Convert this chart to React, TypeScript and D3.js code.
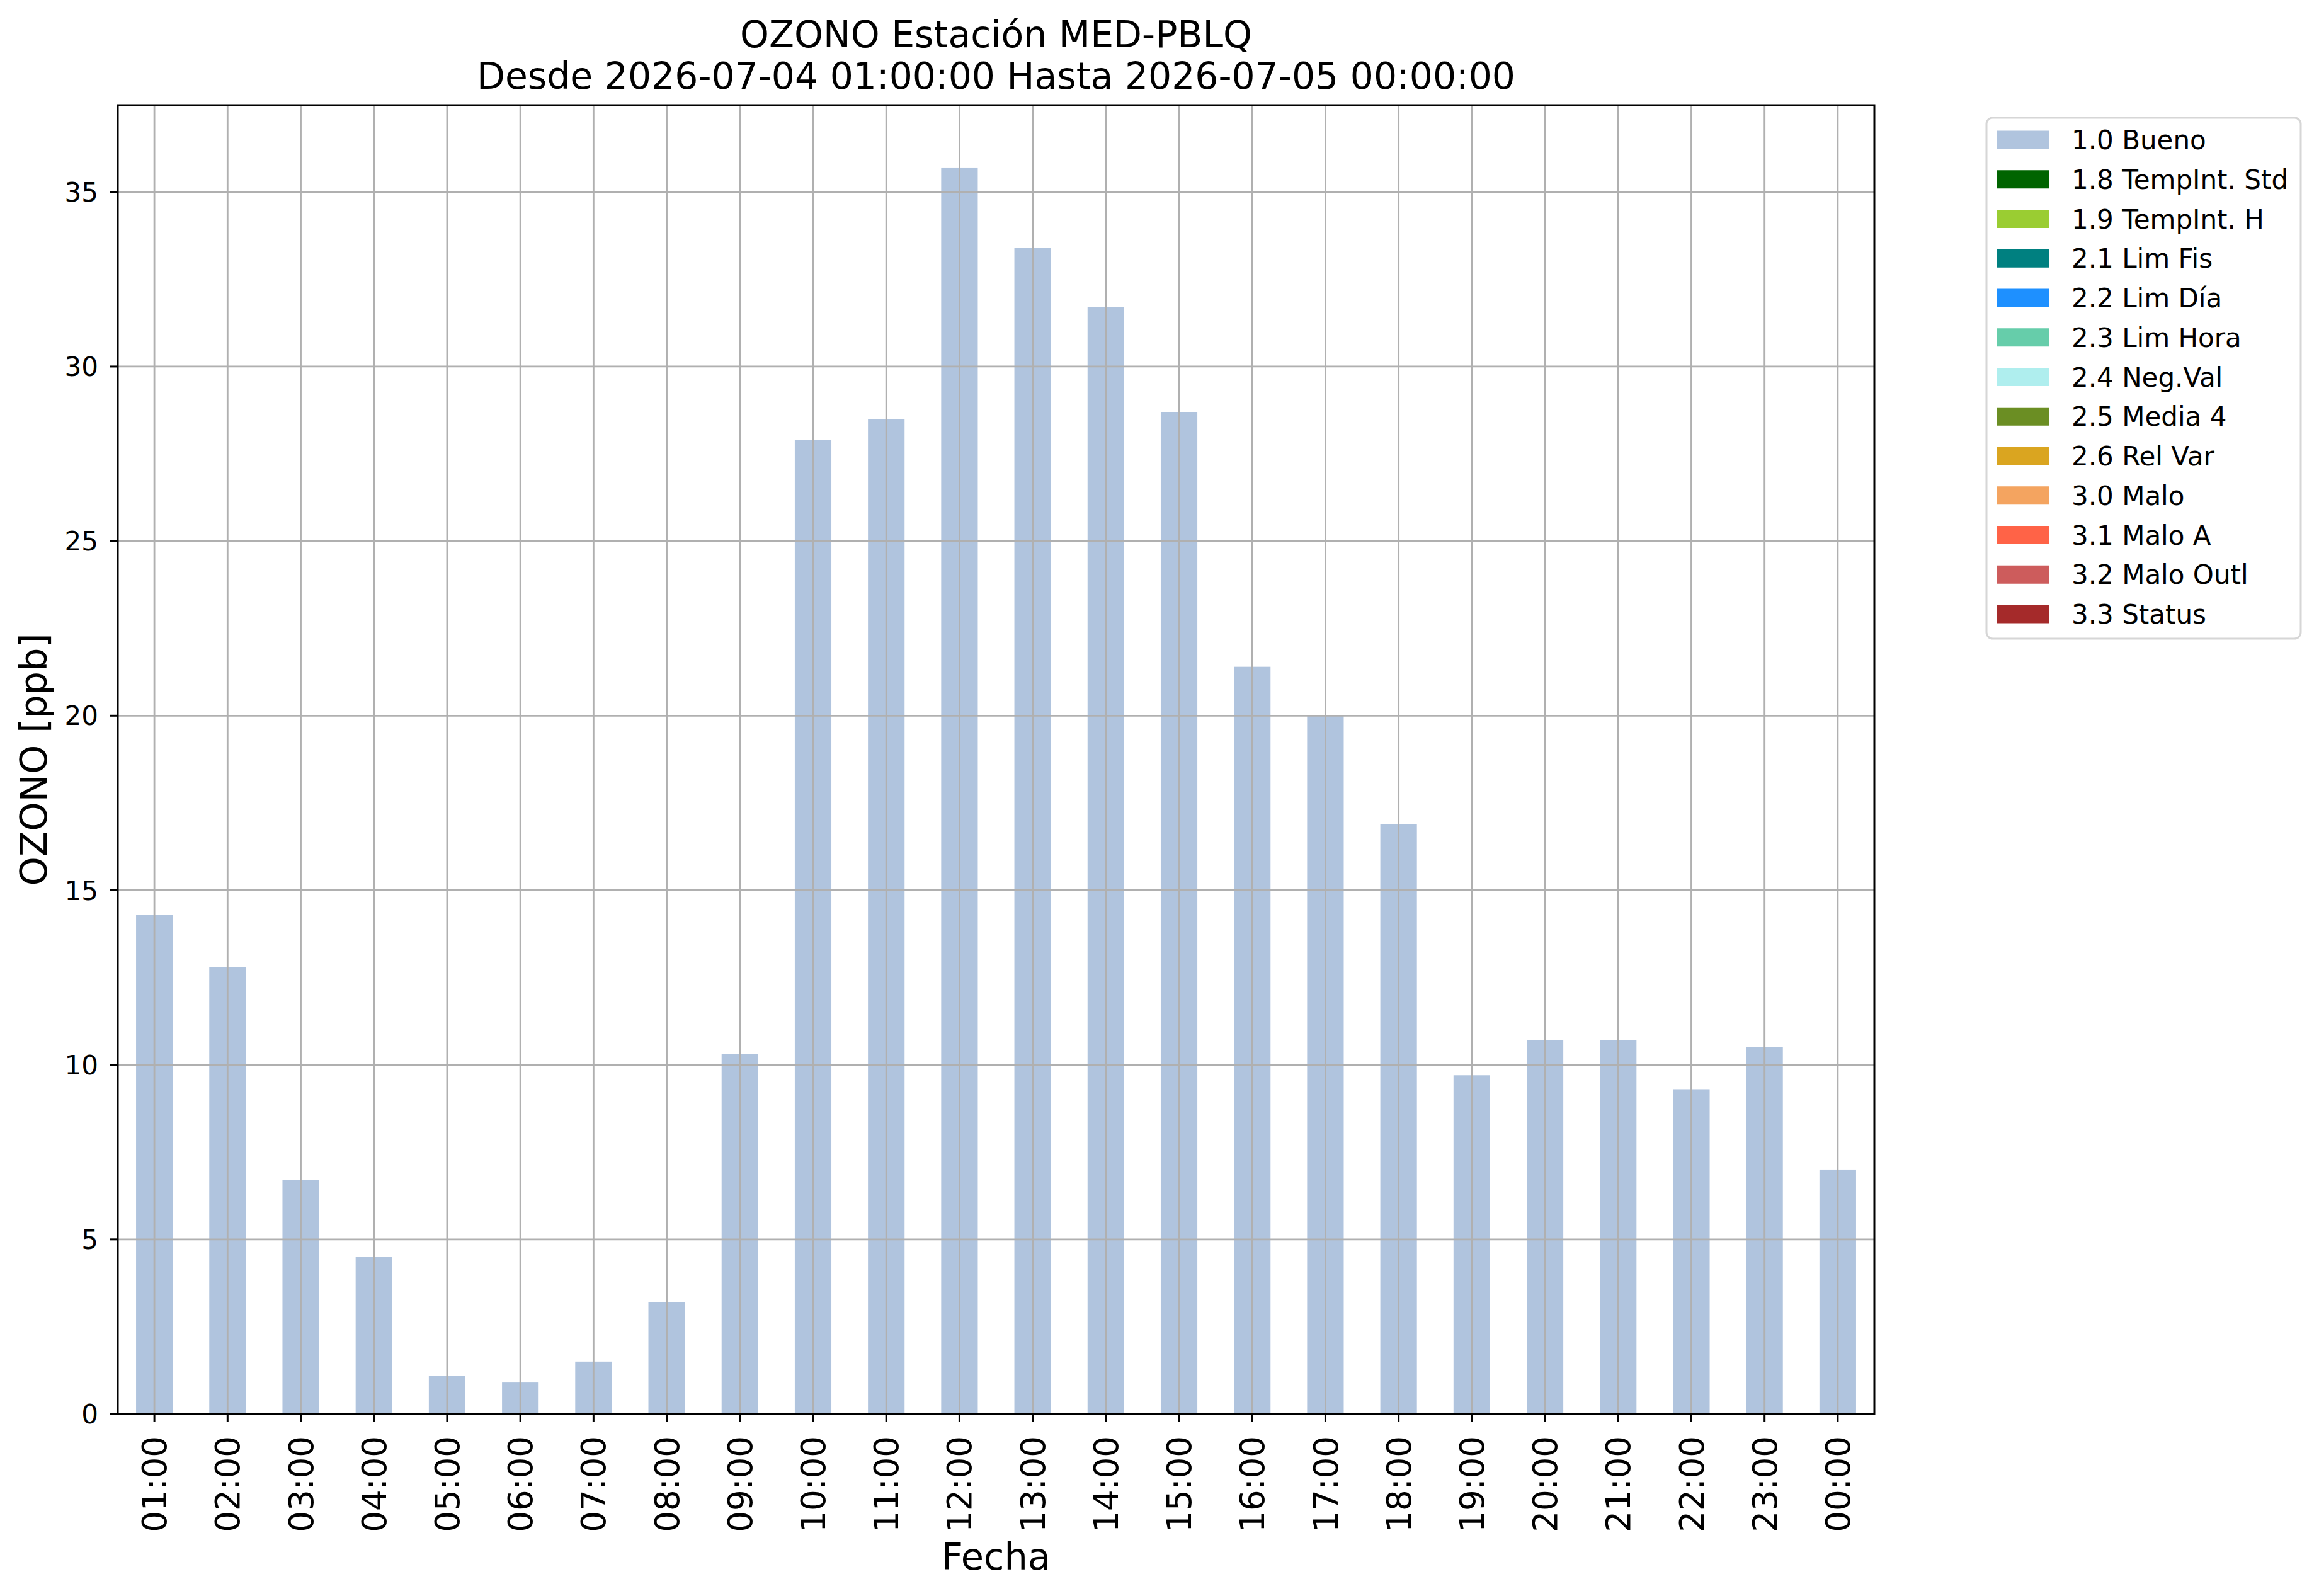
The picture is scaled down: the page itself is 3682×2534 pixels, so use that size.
import { useEffect, useRef } from "react";
import * as d3 from "d3";

// Hourly ozone values (ppb) for the station
const hours = [
    "01:00", "02:00", "03:00", "04:00", "05:00", "06:00", "07:00", "08:00",
    "09:00", "10:00", "11:00", "12:00", "13:00", "14:00", "15:00", "16:00",
    "17:00", "18:00", "19:00", "20:00", "21:00", "22:00", "23:00", "00:00"
];
const ozoneValues = [
    14.3, 12.8, 6.7, 4.5, 1.1, 0.9, 1.5, 3.2,
    10.3, 27.9, 28.5, 35.7, 33.4, 31.7, 28.7, 21.4,
    20.0, 16.9, 9.7, 10.7, 10.7, 9.3, 10.5, 7.0
];
const yTicks = [0, 5, 10, 15, 20, 25, 30, 35];

// Quality flag legend
const flagLabels = [
    "1.0 Bueno", "1.8 TempInt. Std", "1.9 TempInt. H", "2.1 Lim Fis",
    "2.2 Lim Día", "2.3 Lim Hora", "2.4 Neg.Val", "2.5 Media 4",
    "2.6 Rel Var", "3.0 Malo", "3.1 Malo A", "3.2 Malo Outl", "3.3 Status"
];
const flagColors = [
    "#b0c4de", "#006400", "#9acd32", "#008080",
    "#1e90ff", "#66cdaa", "#afeeee", "#6b8e23",
    "#daa520", "#f4a460", "#ff6347", "#cd5c5c", "#a52a2a"
];

const titleLines = [
    "OZONO Estación MED-PBLQ",
    "Desde 2026-07-04 01:00:00 Hasta 2026-07-05 00:00:00"
];

const WIDTH = 3682;
const HEIGHT = 2534;
const FONT = "DejaVu Sans, Verdana, sans-serif";

export default function App(): JSX.Element {
    const svgRef = useRef<SVGSVGElement>(null);

    useEffect(() => {
        document.body.style.margin = "0";

        const svg = d3.select(svgRef.current);
        svg.selectAll("*").remove();

        // plot area
        const left = 187, right = 2976, top = 167, bottom = 2245;
        const tickLen = 13;

        svg.append("rect")
            .attr("width", WIDTH)
            .attr("height", HEIGHT)
            .attr("fill", "#ffffff");

        const x = d3.scaleBand<string>()
            .domain(hours)
            .range([left, right])
            .paddingInner(0.5)
            .paddingOuter(0.25);

        const yMax = (d3.max(ozoneValues) ?? 0) * 1.05;
        const y = d3.scaleLinear()
            .domain([0, yMax])
            .range([bottom, top]);

        // bars
        svg.append("g")
            .selectAll("rect")
            .data(ozoneValues)
            .enter().append("rect")
            .attr("x", (d, i) => x(hours[i]) ?? 0)
            .attr("y", d => y(d))
            .attr("width", x.bandwidth())
            .attr("height", d => y(0) - y(d))
            .attr("fill", flagColors[0]);

        // grid drawn over the bars, like the matplotlib original
        const grid = svg.append("g")
            .attr("stroke", "#b0b0b0")
            .attr("stroke-width", 2.8);

        grid.selectAll("line.v")
            .data(hours)
            .enter().append("line")
            .attr("class", "v")
            .attr("x1", d => (x(d) ?? 0) + x.bandwidth() / 2)
            .attr("x2", d => (x(d) ?? 0) + x.bandwidth() / 2)
            .attr("y1", top)
            .attr("y2", bottom);

        grid.selectAll("line.h")
            .data(yTicks)
            .enter().append("line")
            .attr("class", "h")
            .attr("x1", left)
            .attr("x2", right)
            .attr("y1", d => y(d))
            .attr("y2", d => y(d));

        // frame
        svg.append("rect")
            .attr("x", left)
            .attr("y", top)
            .attr("width", right - left)
            .attr("height", bottom - top)
            .attr("fill", "none")
            .attr("stroke", "#000000")
            .attr("stroke-width", 3);

        // y axis ticks + labels
        const yAxis = svg.append("g");
        yAxis.selectAll("line")
            .data(yTicks)
            .enter().append("line")
            .attr("x1", left - tickLen)
            .attr("x2", left)
            .attr("y1", d => y(d))
            .attr("y2", d => y(d))
            .attr("stroke", "#000000")
            .attr("stroke-width", 3);

        yAxis.selectAll("text")
            .data(yTicks)
            .enter().append("text")
            .attr("x", left - tickLen - 18)
            .attr("y", d => y(d))
            .attr("dy", "0.36em")
            .attr("text-anchor", "end")
            .attr("font-family", FONT)
            .attr("font-size", 42)
            .text(d => String(d));

        // x axis ticks + rotated labels
        const xAxis = svg.append("g");
        xAxis.selectAll("line")
            .data(hours)
            .enter().append("line")
            .attr("x1", d => (x(d) ?? 0) + x.bandwidth() / 2)
            .attr("x2", d => (x(d) ?? 0) + x.bandwidth() / 2)
            .attr("y1", bottom)
            .attr("y2", bottom + tickLen)
            .attr("stroke", "#000000")
            .attr("stroke-width", 3);

        xAxis.selectAll("text")
            .data(hours)
            .enter().append("text")
            .attr("transform", d => `translate(${(x(d) ?? 0) + x.bandwidth() / 2},${bottom + tickLen + 22}) rotate(-90)`)
            .attr("dy", "0.36em")
            .attr("text-anchor", "end")
            .attr("font-family", FONT)
            .attr("font-size", 53)
            .text(d => d);

        // axis titles
        svg.append("text")
            .attr("x", (left + right) / 2)
            .attr("y", 2492)
            .attr("text-anchor", "middle")
            .attr("font-family", FONT)
            .attr("font-size", 59)
            .text("Fecha");

        svg.append("text")
            .attr("transform", `translate(74,${(top + bottom) / 2}) rotate(-90)`)
            .attr("text-anchor", "middle")
            .attr("font-family", FONT)
            .attr("font-size", 59)
            .text("OZONO [ppb]");

        // title, two lines
        svg.append("g")
            .selectAll("text")
            .data(titleLines)
            .enter().append("text")
            .attr("x", (left + right) / 2)
            .attr("y", (d, i) => 75 + i * 66)
            .attr("text-anchor", "middle")
            .attr("font-family", FONT)
            .attr("font-size", 58.4)
            .text(d => d);

        // legend
        const legend = svg.append("g");
        const legX = 3154, legY = 187, rowH = 62.75, firstRow = 222;

        legend.append("rect")
            .attr("x", legX)
            .attr("y", legY)
            .attr("width", 499)
            .attr("height", 827)
            .attr("rx", 10)
            .attr("fill", "#ffffff")
            .attr("fill-opacity", 0.8)
            .attr("stroke", "#d6d6d6")
            .attr("stroke-width", 3);

        const rows = legend.selectAll("g.row")
            .data(flagLabels)
            .enter().append("g")
            .attr("class", "row")
            .attr("transform", (d, i) => `translate(0,${firstRow + i * rowH})`);

        rows.append("rect")
            .attr("x", 3170)
            .attr("y", -14.5)
            .attr("width", 84)
            .attr("height", 29)
            .attr("fill", (d, i) => flagColors[i]);

        rows.append("text")
            .attr("x", 3289)
            .attr("dy", "0.36em")
            .attr("font-family", FONT)
            .attr("font-size", 42)
            .text(d => d);
    }, []);

    return <svg ref={svgRef} width={WIDTH} height={HEIGHT} style={{ display: "block" }} />;
}
